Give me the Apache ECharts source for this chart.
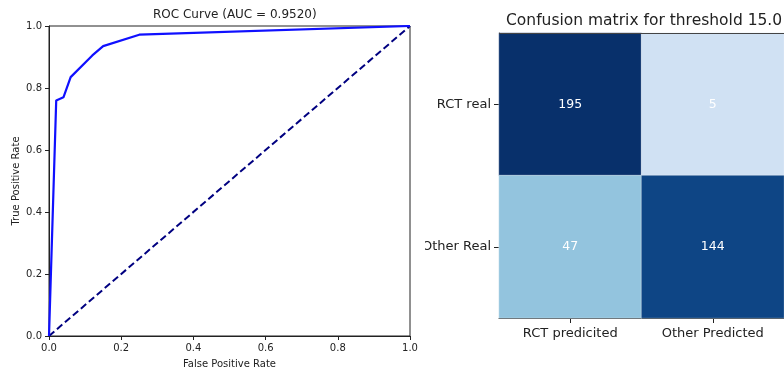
<!DOCTYPE html>
<html>
<head>
<meta charset="utf-8">
<script src="https://cdn.jsdelivr.net/npm/echarts@6/dist/echarts.min.js"></script>
<style>html,body{margin:0;padding:0;background:#fff;}#c{width:784px;height:374px;}</style>
</head>
<body>
<div id="c"></div>
<script>
// ROC data
var fpr = [0.0, 0.02, 0.04, 0.06, 0.12, 0.15, 0.25, 1.0];
var tpr = [0.0, 0.76, 0.77, 0.835, 0.905, 0.935, 0.972, 1.0];
var diagX = [0, 1];
var diagY = [0, 1];
var rocTicks = [0, 0.2, 0.4, 0.6, 0.8, 1.0];
// Confusion matrix data
var predLabels = ['RCT predicited', 'Other Predicted'];
var realLabels = ['RCT real', 'Other Real'];
var cmValues = [[195, 5], [47, 144]]; // rows: real, cols: predicted
var cmColors = [['#08306b', '#d0e1f3'], ['#93c4de', '#0e4585']];

var font = 'DejaVu Sans';
var rocLine = fpr.map(function (x, i) { return [x, tpr[i]]; });
var diagLine = diagX.map(function (x, i) { return [x, diagY[i]]; });
var heat = [];
for (var r = 0; r < realLabels.length; r++) {
  for (var c = 0; c < predLabels.length; c++) {
    heat.push({ value: [c, r, cmValues[r][c]], itemStyle: { color: cmColors[r][c] } });
  }
}

var chart = echarts.init(document.getElementById('c'), null, { renderer: 'canvas' });
chart.setOption({
  animation: false,
  textStyle: { fontFamily: font },
  title: [
    { text: 'ROC Curve (AUC = 0.9520)', left: 148, top: 4,
      textStyle: { fontFamily: font, fontSize: 12, fontWeight: 'normal', color: '#222' } },
    { text: 'Confusion matrix for threshold 15.0', left: 501, top: 8,
      textStyle: { fontFamily: font, fontSize: 15.5, fontWeight: 'normal', color: '#222' } }
  ],
  grid: [
    { left: 49, top: 26, width: 361, height: 311, show: true, borderColor: '#222', borderWidth: 1, backgroundColor: 'transparent' },
    { left: 499, top: 33, width: 286, height: 285, show: false }
  ],
  xAxis: [
    { type: 'value', gridIndex: 0, min: 0, max: 1, interval: 0.2,
      name: 'False Positive Rate', nameLocation: 'middle', nameGap: 23,
      nameTextStyle: { fontFamily: font, fontSize: 10, color: '#222' },
      axisLine: { show: true, lineStyle: { color: '#222' } },
      axisTick: { show: true, length: 4, lineStyle: { color: '#222' } },
      axisLabel: { fontFamily: font, fontSize: 10, color: '#222', margin: 7,
        formatter: function (v) { return v.toFixed(1); } },
      splitLine: { show: false } },
    { type: 'category', gridIndex: 1, data: predLabels, position: 'bottom',
      axisLine: { show: true, lineStyle: { color: '#222' } },
      axisTick: { show: true, alignWithLabel: true, length: 5, lineStyle: { color: '#222' } },
      axisLabel: { fontFamily: font, fontSize: 13, color: '#222', margin: 9 },
      splitLine: { show: false } }
  ],
  yAxis: [
    { type: 'value', gridIndex: 0, min: 0, max: 1, interval: 0.2,
      name: 'True Positive Rate', nameLocation: 'middle', nameGap: 28, nameRotate: 90,
      nameTextStyle: { fontFamily: font, fontSize: 10, color: '#222' },
      axisLine: { show: true, lineStyle: { color: '#222' } },
      axisTick: { show: true, length: 4, lineStyle: { color: '#222' } },
      axisLabel: { fontFamily: font, fontSize: 10, color: '#222', margin: 7,
        formatter: function (v) { return v.toFixed(1); } },
      splitLine: { show: false } },
    { type: 'category', gridIndex: 1, data: realLabels, inverse: true,
      axisLine: { show: true, lineStyle: { color: '#222' } },
      axisTick: { show: true, alignWithLabel: true, length: 5, lineStyle: { color: '#222' } },
      axisLabel: { fontFamily: font, fontSize: 13, color: '#222', margin: 8 },
      splitLine: { show: false } }
  ],
  series: [
    { type: 'line', xAxisIndex: 0, yAxisIndex: 0, data: rocLine, symbol: 'none',
      lineStyle: { color: '#1010ff', width: 2.2 }, z: 3 },
    { type: 'line', xAxisIndex: 0, yAxisIndex: 0, data: diagLine, symbol: 'none',
      lineStyle: { color: '#000080', width: 2, type: [7, 3.5] }, z: 2 },
    { type: 'heatmap', xAxisIndex: 1, yAxisIndex: 1, data: heat,
      itemStyle: { borderColor: 'rgba(255,255,255,0.35)', borderWidth: 1 },
      label: { show: true, fontFamily: font, fontSize: 12.5, color: '#fff',
        formatter: function (p) { return p.value[2]; } } }
  ],
  graphic: [
    { type: 'line', shape: { x1: 499, y1: 33.5, x2: 785, y2: 33.5 }, style: { stroke: '#444', lineWidth: 1 }, z: 100 },
    { type: 'rect', shape: { x: 413, y: 236, width: 12, height: 20 }, style: { fill: '#fff' }, z: 100 }
  ]
});
</script>
</body>
</html>
